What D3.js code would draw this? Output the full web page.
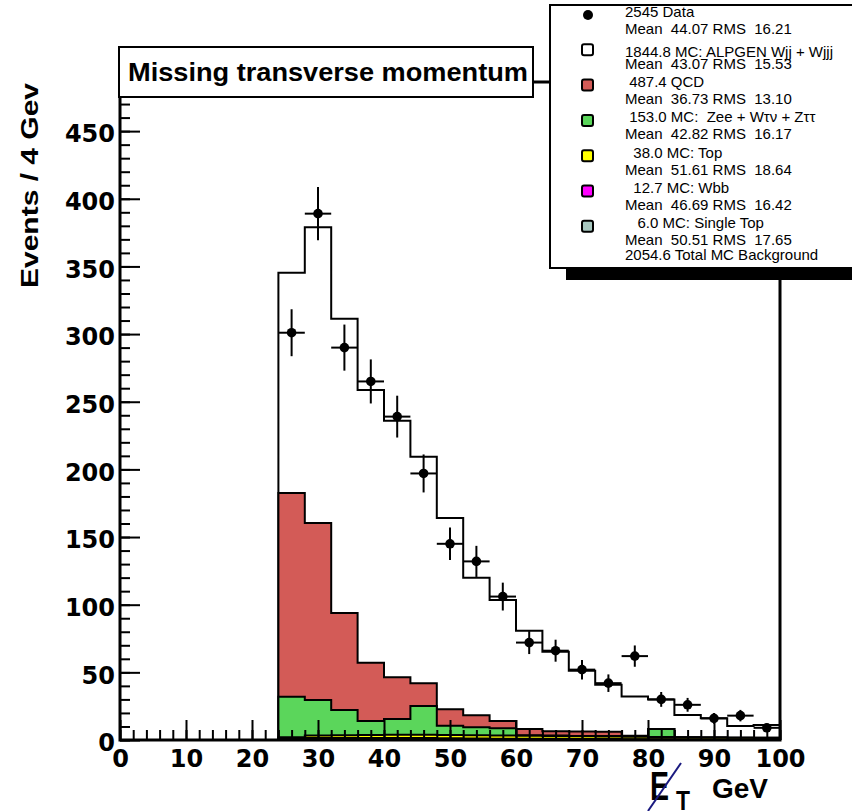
<!DOCTYPE html>
<html>
<head>
<meta charset="utf-8">
<script src="https://cdn.jsdelivr.net/npm/d3@7"></script>
<style>
  body { margin: 0; background: #ffffff; }
  text { font-family: "Liberation Sans", Arial, Helvetica, sans-serif; }
</style>
</head>
<body>
<div id="chart"></div>
<script>
// bins: lower edges, 4 GeV wide
var binLow = [24, 28, 32, 36, 40, 44, 48, 52, 56, 60, 64, 68, 72, 76, 80, 84, 88, 92, 96];
var binWidth = 4;
// data counts
var dataCounts = [301, 389, 290, 265, 239, 197, 145, 132, 106, 72, 66, 52, 42, 62, 30, 26, 16, 18, 9];
// MC components per bin (not stacked)
var singleTop = [0.3, 0.5, 0.5, 0.5, 0.5, 0.5, 0.4, 0.4, 0.3, 0.3, 0.3, 0.2, 0.2, 0.2, 0.2, 0.1, 0.1, 0.1, 0.1];
var wbb = [0.6, 1.0, 1.0, 1.0, 1.0, 0.9, 0.9, 0.8, 0.7, 0.6, 0.6, 0.5, 0.5, 0.4, 0.4, 0.3, 0.3, 0.2, 0.2];
var topMC = [1.2, 1.8, 2.0, 2.2, 2.3, 2.4, 2.4, 2.4, 2.3, 2.2, 2.1, 2.0, 1.9, 1.8, 1.6, 1.5, 1.4, 1.3, 1.2];
var ewk = [29.9, 26.3, 18.7, 10.3, 11.7, 21.3, 6.9, 5.8, 5.3, 0.4, 0.3, 0.3, 0.3, 0.2, 5.9, 0.2, 0.1, 0.1, 0.1];
var qcd = [150.6, 130.8, 71.7, 43.1, 30.8, 16.8, 12.1, 8.8, 5.4, 4.6, 3.2, 3.2, 3.2, 0.5, 0, 0, 0, 0, 0];
var wjets = [162.8, 218.6, 217.5, 201.6, 189.7, 167.5, 141.3, 101.8, 89.5, 72.7, 58.8, 45.0, 34.7, 29.1, 21.9, 16.4, 14.1, 8.6, 9.4];

var xTicks = [0, 10, 20, 30, 40, 50, 60, 70, 80, 90, 100];
var yTicks = [0, 50, 100, 150, 200, 250, 300, 350, 400, 450];

var legendLabels = ['2545 Data', '1844.8 MC: ALPGEN Wjj + Wjjj', ' 487.4 QCD', ' 153.0 MC:  Zee + W\u03c4\u03bd + Z\u03c4\u03c4',
    '  38.0 MC: Top', '  12.7 MC: Wbb', '   6.0 MC: Single Top'];
var legendStats = ['Mean  44.07 RMS  16.21', 'Mean  43.07 RMS  15.53', 'Mean  36.73 RMS  13.10', 'Mean  42.82 RMS  16.17',
    'Mean  51.61 RMS  18.64', 'Mean  46.69 RMS  16.42', 'Mean  50.51 RMS  17.65'];
var legendFooter = '2054.6 Total MC Background';

var keys = ['singleTop', 'wbb', 'topMC', 'ewk', 'qcd', 'wjets'];
var colors = {singleTop: '#a8c8c0', wbb: '#ff00ff', topMC: '#ffff00', ewk: '#5bd65b', qcd: '#d35b57', wjets: '#ffffff'};
var legendKeys = [null, 'wjets', 'qcd', 'ewk', 'topMC', 'wbb', 'singleTop'];

var W = 852, H = 811;
var svg = d3.select('#chart').append('svg').attr('width', W).attr('height', H);

var x = d3.scaleLinear().domain([0, 100]).range([120, 780]);
var y = d3.scaleLinear().domain([0, 486.3]).range([740, 82]);

// stack the MC
var rows = binLow.map(function (b, i) {
    return {bin: b, singleTop: singleTop[i], wbb: wbb[i], topMC: topMC[i], ewk: ewk[i], qcd: qcd[i], wjets: wjets[i]};
});
var layers = d3.stack().keys(keys)(rows);

var area = d3.area()
    .x(function (d) { return x(d.x); })
    .y0(y(0))
    .y1(function (d) { return y(d.v); })
    .curve(d3.curveStepAfter);

var gHist = svg.append('g');
layers.slice().reverse().forEach(function (layer) {
    var pts = layer.map(function (d) { return {x: d.data.bin, v: d[1]}; });
    pts.push({x: binLow[binLow.length - 1] + binWidth, v: layer[layer.length - 1][1]});
    gHist.append('path')
        .attr('d', area(pts))
        .attr('fill', colors[layer.key])
        .attr('stroke', '#000')
        .attr('stroke-width', 2)
        .attr('stroke-linejoin', 'miter');
});

// axes (ticks inside the frame)
var axisFont = '"DejaVu Sans", Verdana, sans-serif';
var minorX = d3.range(0, 101, 2);
var minorY = d3.range(0, 481, 10);
svg.append('g').attr('transform', 'translate(0,740)')
    .call(d3.axisBottom(x).tickValues(minorX).tickSize(-10).tickFormat(''))
    .call(function (g) { g.select('.domain').remove(); g.selectAll('line').attr('stroke-width', 2); });
svg.append('g').attr('transform', 'translate(0,740)')
    .call(d3.axisBottom(x).tickValues(xTicks).tickSize(-20).tickPadding(10).tickFormat(d3.format('d')))
    .call(function (g) {
        g.select('.domain').remove();
        g.selectAll('line').attr('stroke-width', 2);
        g.selectAll('text').attr('font-size', '24px').attr('font-weight', 'bold').attr('fill', '#000')
            .style('font-family', axisFont);
    });
svg.append('g').attr('transform', 'translate(120,0)')
    .call(d3.axisLeft(y).tickValues(minorY).tickSize(-10).tickFormat(''))
    .call(function (g) { g.select('.domain').remove(); g.selectAll('line').attr('stroke-width', 2); });
svg.append('g').attr('transform', 'translate(120,0)')
    .call(d3.axisLeft(y).tickValues(yTicks).tickSize(-20).tickPadding(5).tickFormat(d3.format('d')))
    .call(function (g) {
        g.select('.domain').remove();
        g.selectAll('line').attr('stroke-width', 2);
        g.selectAll('text').attr('font-size', '24px').attr('font-weight', 'bold').attr('fill', '#000')
            .attr('dy', '0.45em')
            .style('font-family', axisFont);
    });

// frame
svg.append('rect')
    .attr('x', x(0)).attr('y', y(486.3))
    .attr('width', x(100) - x(0)).attr('height', y(0) - y(486.3))
    .attr('fill', 'none').attr('stroke', '#000').attr('stroke-width', 3);

// data points
var gData = svg.append('g');
binLow.forEach(function (b, i) {
    var cx = x(b + binWidth / 2), v = dataCounts[i], e = Math.sqrt(v);
    gData.append('line').attr('x1', cx).attr('x2', cx).attr('y1', y(v - e)).attr('y2', y(v + e))
        .attr('stroke', '#000').attr('stroke-width', 2);
    gData.append('line').attr('x1', x(b)).attr('x2', x(b + binWidth)).attr('y1', y(v)).attr('y2', y(v))
        .attr('stroke', '#000').attr('stroke-width', 2);
    gData.append('circle').attr('cx', cx).attr('cy', y(v)).attr('r', 4.8).attr('fill', '#000');
});

// title box
svg.append('rect').attr('x', 119).attr('y', 47).attr('width', 414).attr('height', 50)
    .attr('fill', '#fff').attr('stroke', '#000').attr('stroke-width', 2);
svg.append('text').attr('x', 128).attr('y', 81).attr('font-size', '25px').attr('font-weight', 'bold')
    .attr('textLength', 400).attr('lengthAdjust', 'spacingAndGlyphs')
    .text('Missing transverse momentum');

// y title
svg.append('text')
    .attr('transform', 'translate(38,83) rotate(-90)')
    .attr('text-anchor', 'end')
    .attr('font-size', '23px').attr('font-weight', 'bold')
    .attr('textLength', 205).attr('lengthAdjust', 'spacingAndGlyphs')
    .text('Events / 4 Gev');

// x title: slashed E_T GeV
svg.append('text').attr('x', 650).attr('y', 800).attr('font-size', '40px').attr('font-weight', 'bold')
    .attr('textLength', 19).attr('lengthAdjust', 'spacingAndGlyphs').text('E');
svg.append('text').attr('x', 676).attr('y', 810).attr('font-size', '28px').attr('font-weight', 'bold')
    .attr('textLength', 14).attr('lengthAdjust', 'spacingAndGlyphs').text('T');
svg.append('text').attr('x', 712).attr('y', 798).attr('font-size', '28px').attr('font-weight', 'bold').text('GeV');
svg.append('line').attr('x1', 648).attr('y1', 811).attr('x2', 681).attr('y2', 763)
    .attr('stroke', '#1a1a80').attr('stroke-width', 2);

// legend with shadow
var lg = svg.append('g');
lg.append('rect').attr('x', 566).attr('y', 20).attr('width', 320).attr('height', 260).attr('fill', '#000');
lg.append('rect').attr('x', 550).attr('y', 5).attr('width', 320).attr('height', 263)
    .attr('fill', '#fff').attr('stroke', '#000').attr('stroke-width', 2);

legendLabels.forEach(function (lab, i) {
    var rowY = 15 + i * 35.3;
    var k = legendKeys[i];
    if (k === null) {
        lg.append('circle').attr('cx', 588).attr('cy', rowY).attr('r', 5).attr('fill', '#000');
    } else {
        lg.append('rect').attr('x', 582).attr('y', rowY - 6).attr('width', 11).attr('height', 11).attr('rx', 2)
            .attr('fill', colors[k]).attr('stroke', '#000').attr('stroke-width', 2);
    }
    lg.append('text').attr('x', 625).attr('y', rowY + (i === 1 ? 7 : 1.5)).attr('font-size', '15px')
        .style('white-space', 'pre').text(lab);
    lg.append('text').attr('x', 625).attr('y', rowY + 18.5).attr('font-size', '15px')
        .style('white-space', 'pre').text(legendStats[i]);
});
lg.append('text').attr('x', 625).attr('y', 260).attr('font-size', '15px').text(legendFooter);
</script>
</body>
</html>
